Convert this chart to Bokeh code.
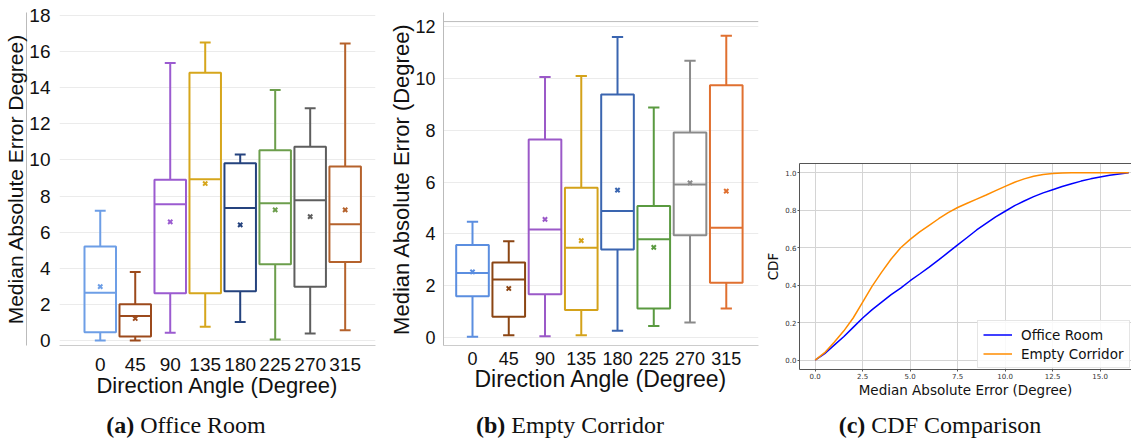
import numpy as np
from bokeh.plotting import figure
from bokeh.models import FixedTicker, LinearAxis, Div, PrintfTickFormatter, Span, Spacer
from bokeh.layouts import row, column
from bokeh.embed import file_html
from bokeh.resources import INLINE

# ---------------- data ----------------
angles = [0, 45, 90, 135, 180, 225, 270, 315]

office_low = [0.0, 0.0, 0.43, 0.76, 1.02, 0.06, 0.39, 0.57]
office_q1 = [0.45, 0.22, 2.61, 2.61, 2.72, 4.22, 2.98, 4.35]
office_med = [2.65, 1.35, 7.55, 8.93, 7.33, 7.60, 7.77, 6.44]
office_q3 = [5.20, 2.00, 8.90, 14.82, 9.82, 10.54, 10.73, 9.64]
office_high = [7.18, 3.79, 15.37, 16.50, 10.30, 13.87, 12.86, 16.44]
office_mean = [2.98, 1.22, 6.57, 8.69, 6.40, 7.23, 6.86, 7.23]
office_colors = ["#6d9ee6", "#9c4a1c", "#9b5bd0", "#d6a61c",
                 "#25437e", "#6c9e4c", "#5e5e5e", "#b5622c"]

corr_low = [0.04, 0.10, 0.06, 0.10, 0.27, 0.45, 0.59, 1.13]
corr_q1 = [1.60, 0.81, 1.68, 1.07, 3.40, 1.13, 3.95, 2.12]
corr_med = [2.50, 2.25, 4.17, 3.47, 4.88, 3.80, 5.90, 4.24]
corr_q3 = [3.57, 2.90, 7.64, 5.78, 9.37, 5.08, 7.91, 9.73]
corr_high = [4.47, 3.72, 10.05, 10.08, 11.59, 8.87, 10.67, 11.63]
corr_mean = [2.54, 1.90, 4.56, 3.74, 5.69, 3.48, 5.97, 5.65]
corr_colors = ["#5b8ee0", "#8b4513", "#9b59c8", "#d4a21a",
               "#3a65b0", "#5a9a40", "#8a8a8a", "#e07030"]

a_yticks = [0, 2, 4, 6, 8, 10, 12, 14, 16, 18]
b_yticks = [0, 2, 4, 6, 8, 10, 12]
b_top_line = 12.18

cdf_x = [0.0, 0.5, 1.0, 1.5, 2.0, 2.5, 3.0, 3.5, 4.0, 4.5, 5.0, 5.5, 6.0, 6.5,
         7.0, 7.5, 8.0, 8.5, 9.0, 9.5, 10.0, 10.5, 11.0, 11.5, 12.0, 12.5,
         13.0, 13.5, 14.0, 14.5, 15.0, 15.5, 16.0, 16.5]
cdf_office = [0.0, 0.035, 0.08, 0.125, 0.175, 0.225, 0.27, 0.31, 0.35, 0.385,
              0.424, 0.46, 0.497, 0.535, 0.575, 0.615, 0.655, 0.695, 0.73,
              0.765, 0.795, 0.825, 0.85, 0.873, 0.893, 0.91, 0.927, 0.942,
              0.956, 0.968, 0.978, 0.987, 0.994, 1.0]
cdf_corridor = [0.0, 0.04, 0.095, 0.155, 0.225, 0.31, 0.395, 0.47, 0.54, 0.60,
                0.645, 0.685, 0.72, 0.755, 0.788, 0.815, 0.838, 0.86, 0.882,
                0.905, 0.928, 0.95, 0.968, 0.982, 0.991, 0.996, 0.999, 1.0,
                1.0, 1.0, 1.0, 1.0, 1.0, 1.0]
c_xticks = [0.0, 2.5, 5.0, 7.5, 10.0, 12.5, 15.0]
c_yticks = [0.0, 0.2, 0.4, 0.6, 0.8, 1.0]

SANS = "Liberation Sans"


def draw_boxes(p, low, q1, med, q3, high, mean, colors, bw=40.5, cw=14.0):
    x = np.array(angles, dtype=float)
    p.vbar(x=x, width=bw, bottom=q1, top=q3, fill_color=None,
           line_color=colors, line_width=2)
    p.segment(x0=x - bw / 2, x1=x + bw / 2, y0=med, y1=med,
              line_color=colors, line_width=2)
    p.segment(x0=x, x1=x, y0=q3, y1=high, line_color=colors, line_width=2)
    p.segment(x0=x, x1=x, y0=low, y1=q1, line_color=colors, line_width=2)
    p.segment(x0=x - cw / 2, x1=x + cw / 2, y0=high, y1=high,
              line_color=colors, line_width=2)
    p.segment(x0=x - cw / 2, x1=x + cw / 2, y0=low, y1=low,
              line_color=colors, line_width=2)
    p.scatter(x=x, y=mean, marker="x", size=6, line_color=colors,
              line_width=2)


def style_box_fig(p, yticks, tick_size, xlabel, xlabel_size, tick_standoff,
                  label_standoff):
    p.outline_line_color = None
    p.xgrid.visible = False
    p.ygrid.grid_line_color = "#ebebeb"
    p.ygrid.grid_line_width = 1
    xa = p.xaxis[0]
    xa.ticker = FixedTicker(ticks=angles)
    xa.major_tick_line_color = None
    xa.minor_tick_line_color = None
    xa.axis_line_color = "#cccccc"
    xa.major_label_standoff = tick_standoff
    xa.major_label_text_font = SANS
    xa.major_label_text_font_size = tick_size
    xa.major_label_text_color = "#111111"
    xa.axis_label = xlabel
    xa.axis_label_text_font = SANS
    xa.axis_label_text_font_style = "normal"
    xa.axis_label_text_font_size = xlabel_size
    xa.axis_label_text_color = "#111111"
    xa.axis_label_standoff = label_standoff
    ya = p.yaxis[0]
    yt = FixedTicker(ticks=yticks)
    ya.ticker = yt
    p.ygrid.ticker = yt
    ya.major_tick_line_color = None
    ya.minor_tick_line_color = None
    ya.major_label_text_font = SANS
    ya.major_label_text_font_size = tick_size
    ya.major_label_text_color = "#111111"


# ---------------- panel (a) ----------------
fa = figure(width=380, height=400, x_range=(-52.4, 354), y_range=(-0.277, 18.16),
            output_backend="svg", toolbar_location=None,
            min_border_left=59, min_border_right=5, min_border_top=12,
            min_border_bottom=55)
style_box_fig(fa, a_yticks, "19px", "Direction Angle (Degree)", "22px", 6, -1)
ya = fa.yaxis[0]
ya.axis_line_color = None
ya.major_label_standoff = 3
outer = LinearAxis(ticker=FixedTicker(ticks=[]), axis_label="Median Absolute Error Degree)",
                   axis_line_color="#bbbbbb", major_tick_line_color=None,
                   minor_tick_line_color=None, axis_label_standoff=0,
                   axis_label_text_font=SANS, axis_label_text_font_style="normal",
                   axis_label_text_font_size="21px", axis_label_text_color="#111111")
fa.add_layout(outer, "left")
draw_boxes(fa, office_low, office_q1, office_med, office_q3, office_high,
           office_mean, office_colors)

# ---------------- panel (b) ----------------
fb = figure(width=382, height=400, x_range=(-36.0, 355), y_range=(-0.297, 12.53),
            output_backend="svg", toolbar_location=None,
            min_border_left=63, min_border_right=4, min_border_top=12,
            min_border_bottom=55)
style_box_fig(fb, b_yticks, "18px", "Direction Angle (Degree)", "23px", 0, -2)
yb = fb.yaxis[0]
yb.axis_line_color = "#bbbbbb"
yb.major_label_standoff = 2
yb.axis_label = "Median Absolute Error (Degree)"
yb.axis_label_text_font = SANS
yb.axis_label_text_font_style = "normal"
yb.axis_label_text_font_size = "22px"
yb.axis_label_text_color = "#111111"
yb.axis_label_standoff = -2
fb.add_layout(Span(location=b_top_line, dimension="width",
                   line_color="#bbbbbb", line_width=1))
draw_boxes(fb, corr_low, corr_q1, corr_med, corr_q3, corr_high,
           corr_mean, corr_colors)

# ---------------- panel (c) ----------------
fc = figure(width=369, height=242, x_range=(-0.825, 16.65), y_range=(-0.05, 1.05),
            output_backend="svg", toolbar_location=None,
            min_border_left=32, min_border_right=0, min_border_top=5,
            min_border_bottom=29)
fc.outline_line_color = None
for g in (fc.xgrid[0], fc.ygrid[0]):
    g.grid_line_color = "#d4d4d4"
    g.grid_line_width = 1
xt = FixedTicker(ticks=c_xticks)
ytc = FixedTicker(ticks=c_yticks)
fc.xaxis[0].ticker = xt
fc.xgrid[0].ticker = xt
fc.yaxis[0].ticker = ytc
fc.ygrid[0].ticker = ytc
for ax in (fc.xaxis[0], fc.yaxis[0]):
    ax.formatter = PrintfTickFormatter(format="%.1f")
    ax.axis_line_color = "#555555"
    ax.major_tick_line_color = "#555555"
    ax.major_tick_out = 2
    ax.major_tick_in = 0
    ax.minor_tick_line_color = None
    ax.major_label_standoff = 1
    ax.major_label_text_font = "DejaVu Sans"
    ax.major_label_text_font_size = "7px"
    ax.major_label_text_color = "#333333"
    ax.axis_label_text_font = "DejaVu Sans"
    ax.axis_label_text_font_style = "normal"
    ax.axis_label_text_font_size = "13.5px"
    ax.axis_label_text_color = "#111111"
    ax.axis_label_standoff = 1
fc.xaxis[0].axis_label = "Median Absolute Error (Degree)"
fc.xaxis[0].axis_label_standoff = 0
fc.yaxis[0].axis_label = "CDF"
top_c = LinearAxis(ticker=FixedTicker(ticks=[]), axis_line_color="#555555",
                   major_tick_line_color=None, minor_tick_line_color=None)
fc.add_layout(top_c, "above")
fc.line(cdf_x, cdf_office, line_color="#0000ff", line_width=1.5,
        legend_label="Office Room")
fc.line(cdf_x, cdf_corridor, line_color="#ff8c00", line_width=1.5,
        legend_label="Empty Corridor")
lg = fc.legend[0]
lg.location = (178, 1)
lg.label_text_font = "DejaVu Sans"
lg.label_text_font_size = "13.5px"
lg.label_text_color = "#111111"
lg.glyph_width = 29
lg.glyph_height = 17
lg.label_height = 17
lg.label_standoff = 9
lg.spacing = 2
lg.padding = 5
lg.margin = 0
lg.border_line_color = "#cccccc"
lg.background_fill_alpha = 0.85

# ---------------- captions ----------------
def caption(tag, text, width):
    html = ('<div style="width:%dpx;text-align:center;padding-top:8px;'
            'font-family:\'Liberation Serif\';font-size:24px;color:#111;'
            'white-space:nowrap;">'
            '<b>%s</b> %s</div>' % (width, tag, text))
    return Div(text=html, width=width, height=43, margin=0)

da = caption("(a)", "Office Room", 372)
db = caption("(b)", "Empty Corridor", 396)
dc = caption("(c)", "CDF Comparison", 344)

panel_c = column(Spacer(width=369, height=158), fc)
layout = column(row(fa, fb, panel_c), row(da, db, dc))

with open("out.html", "w") as f:
    f.write(file_html(layout, INLINE))
